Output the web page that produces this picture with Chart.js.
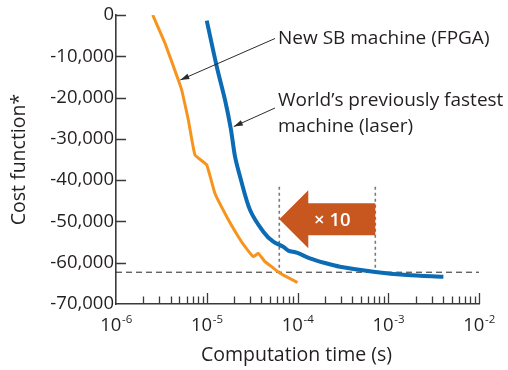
<!DOCTYPE html>
<html lang="en">
<head>
<meta charset="UTF-8">
<title>Cost function vs computation time</title>
<script src="https://cdn.jsdelivr.net/npm/chart.js"></script>
<style>
  html, body { margin: 0; padding: 0; background: #fff; }
  #wrap { width: 508px; height: 370px; }
</style>
</head>
<body>
<div id="wrap"><canvas id="costChart" width="508" height="370"></canvas></div>
<script>
  // new SB machine (FPGA)
  const fpgaTime = [2.54e-6, 3.47e-6, 4.86e-6, 5.30e-6, 6.27e-6, 7.42e-6, 1.0e-5, 1.23e-5, 1.66e-5, 2.23e-5, 2.64e-5, 3.26e-5, 3.70e-5, 4.38e-5, 5.20e-5, 6.41e-5, 1.0e-4];
  const fpgaCost = [0, -6860, -15740, -18170, -25430, -33910, -36330, -43190, -48850, -53700, -56120, -58540, -57720, -59750, -60970, -62570, -64800];
  // world's previously fastest machine (laser)
  const laserTime = [1.0e-5, 1.29e-5, 1.59e-5, 1.84e-5, 2.05e-5, 2.33e-5, 3.0e-5, 4.2e-5, 5.41e-5, 6.97e-5, 7.92e-5, 9.8e-5, 1.37e-4, 2.01e-4, 2.94e-4, 6.86e-4, 1.6e-3, 4.05e-3];
  const laserCost = [-1380, -12520, -20590, -27500, -34320, -39170, -47230, -52490, -54910, -56120, -57090, -57570, -58930, -60070, -60960, -62170, -62980, -63390];

  const targetCost = -62300;          // dashed reference level
  const laserReach = 7.2e-4;          // time for laser to reach target
  const fpgaReach = 6.3e-5;           // time for FPGA to reach target
  const markerTop = -41600;
  const arrowCost = -49500;
  const speedupLabel = '\u00d7 10';

  const xDecades = [-6, -5, -4, -3, -2];
  const xMin = 1e-6, xMax = 1e-2;
  const yMin = -70000, yMax = 0, yStep = 10000;

  const fpgaLabel = 'New SB machine (FPGA)';
  const laserLabel = ['World\u2019s previously fastest', 'machine (laser)'];
  const xTitle = 'Computation time (s)';
  const yTitle = 'Cost function*';

  const FONT = '"Open Sans", "Noto Sans", sans-serif';
  const INK = '#231f20';
  const AXIS = '#3a3a3a';
  const ORANGE = '#f7941d';
  const BLUE = '#0b6cb5';
  const RED = '#c8561f';

  const pts = (xs, ys) => xs.map((x, i) => ({ x: x, y: ys[i] }));

  function leader(ctx, x0, y0, x1, y1) {
    ctx.beginPath();
    ctx.moveTo(x0, y0);
    ctx.lineTo(x1, y1);
    ctx.stroke();
    const a = Math.atan2(y1 - y0, x1 - x0);
    ctx.beginPath();
    ctx.moveTo(x1, y1);
    ctx.lineTo(x1 - 9 * Math.cos(a) + 2.8 * Math.sin(a), y1 - 9 * Math.sin(a) - 2.8 * Math.cos(a));
    ctx.lineTo(x1 - 9 * Math.cos(a) - 2.8 * Math.sin(a), y1 - 9 * Math.sin(a) + 2.8 * Math.cos(a));
    ctx.closePath();
    ctx.fill();
  }

  const decor = {
    id: 'decor',
    afterDatasetsDraw(chart) {
      const ctx = chart.ctx;
      const xs = chart.scales.x, ys = chart.scales.y;
      const area = chart.chartArea;
      ctx.save();

      // speedup arrow
      const tipX = xs.getPixelForValue(fpgaReach);
      const endX = xs.getPixelForValue(laserReach);
      const cy = ys.getPixelForValue(arrowCost);
      const headW = 29, headH = 29, bodyH = 16;
      ctx.fillStyle = RED;
      ctx.beginPath();
      ctx.moveTo(tipX, cy);
      ctx.lineTo(tipX + headW, cy - headH);
      ctx.lineTo(tipX + headW, cy - bodyH);
      ctx.lineTo(endX, cy - bodyH);
      ctx.lineTo(endX, cy + bodyH);
      ctx.lineTo(tipX + headW, cy + bodyH);
      ctx.lineTo(tipX + headW, cy + headH);
      ctx.closePath();
      ctx.fill();
      ctx.fillStyle = '#fff';
      ctx.font = '600 18.5px ' + FONT;
      ctx.textAlign = 'center';
      ctx.textBaseline = 'middle';
      ctx.fillText(speedupLabel, (tipX + endX) / 2 + 5, cy + 1);

      // inward ticks
      ctx.strokeStyle = AXIS;
      ctx.lineWidth = 1.3;
      ctx.beginPath();
      for (let v = yMax; v > yMin; v -= yStep) {
        const py = Math.round(ys.getPixelForValue(v)) + 0.5;
        ctx.moveTo(area.left, py);
        ctx.lineTo(area.left + 10, py);
      }
      xDecades.forEach((e, k) => {
        if (k > 0) {
          const px = Math.round(xs.getPixelForValue(Math.pow(10, e))) + 0.5;
          ctx.moveTo(px, area.bottom);
          ctx.lineTo(px, area.bottom - 11);
        }
        if (e < xDecades[xDecades.length - 1]) {
          for (let m = 2; m <= 9; m++) {
            const px = Math.round(xs.getPixelForValue(m * Math.pow(10, e))) + 0.5;
            ctx.moveTo(px, area.bottom);
            ctx.lineTo(px, area.bottom - 7.5);
          }
        }
      });
      ctx.stroke();

      // x tick labels with exponents
      ctx.fillStyle = INK;
      ctx.textAlign = 'left';
      ctx.textBaseline = 'alphabetic';
      xDecades.forEach(e => {
        const px = xs.getPixelForValue(Math.pow(10, e));
        ctx.font = '18.5px ' + FONT;
        const wb = ctx.measureText('10').width;
        ctx.font = '11.5px ' + FONT;
        const we = ctx.measureText(String(e)).width;
        const x0 = px - (wb + we) / 2;
        ctx.font = '18.5px ' + FONT;
        ctx.fillText('10', x0, area.bottom + 27);
        ctx.font = '11.5px ' + FONT;
        ctx.fillText(String(e), x0 + wb + 0.5, area.bottom + 19);
      });

      // axis titles
      ctx.font = '19.5px ' + FONT;
      ctx.textAlign = 'center';
      ctx.fillText(xTitle, (area.left + area.right) / 2 - 1, 361);
      ctx.save();
      ctx.translate(24.5, (area.top + area.bottom) / 2);
      ctx.rotate(-Math.PI / 2);
      ctx.fillText(yTitle, 0, 0);
      ctx.restore();

      // annotations
      ctx.font = '19px ' + FONT;
      ctx.textAlign = 'left';
      ctx.fillText(fpgaLabel, 278, 44);
      ctx.fillText(laserLabel[0], 278, 106);
      ctx.fillText(laserLabel[1], 278, 131.5);
      ctx.strokeStyle = '#2b2b2b';
      ctx.fillStyle = '#2b2b2b';
      ctx.lineWidth = 1;
      leader(ctx, 275, 38.5, xs.getPixelForValue(fpgaTime[2]) + 2, ys.getPixelForValue(fpgaCost[2]));
      leader(ctx, 275, 108, xs.getPixelForValue(laserTime[3]) + 3, ys.getPixelForValue(laserCost[3]) - 2);

      ctx.restore();
    }
  };

  const ctx = document.getElementById('costChart').getContext('2d');
  const chart = new Chart(ctx, {
    type: 'line',
    data: {
      datasets: [
        { label: 'FPGA', data: pts(fpgaTime, fpgaCost), borderColor: ORANGE, borderWidth: 3, tension: 0.1 },
        { label: 'Laser', data: pts(laserTime, laserCost), borderColor: BLUE, borderWidth: 4, tension: 0.3 },
        { label: 'Target', data: pts([xMin, xMax], [targetCost, targetCost]), borderColor: '#222', borderWidth: 1, borderDash: [6, 4] },
        { label: 'FPGA reach', data: pts([fpgaReach, fpgaReach], [markerTop, targetCost]), borderColor: '#7a7a7a', borderWidth: 1.6, borderDash: [3, 3] },
        { label: 'Laser reach', data: pts([laserReach, laserReach], [markerTop, targetCost]), borderColor: '#7a7a7a', borderWidth: 1.6, borderDash: [3, 3] }
      ]
    },
    options: {
      responsive: false,
      animation: false,
      layout: { padding: { left: 0, top: 15, right: 29, bottom: 0 } },
      elements: { point: { radius: 0 } },
      plugins: { legend: { display: false }, tooltip: { enabled: false } },
      scales: {
        x: {
          type: 'logarithmic',
          min: xMin,
          max: xMax,
          grid: { display: false, drawTicks: false },
          border: { display: true, color: AXIS, width: 1.6 },
          ticks: { display: false },
          afterFit(s) { s.height = 66; }
        },
        y: {
          type: 'linear',
          min: yMin,
          max: yMax,
          grid: { display: false, drawTicks: false },
          border: { display: true, color: AXIS, width: 1.6 },
          ticks: {
            stepSize: yStep,
            padding: 2,
            color: INK,
            font: { family: FONT, size: 18.5 },
            callback: v => v.toLocaleString('en-US')
          },
          afterFit(s) { s.width = 116; }
        }
      }
    },
    plugins: [decor]
  });
</script>
</body>
</html>
